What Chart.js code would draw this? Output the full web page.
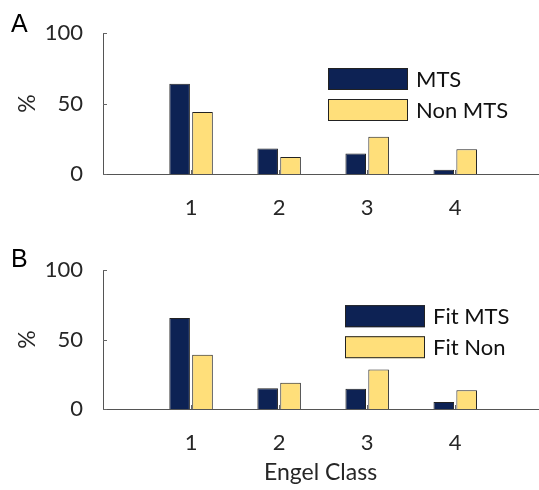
<!DOCTYPE html>
<html>
<head>
<meta charset="utf-8">
<script src="https://cdn.jsdelivr.net/npm/chart.js@4"></script>
<style>
  body { margin: 0; background: #fff; width: 539px; height: 490px; position: relative; overflow: hidden; }
  .panel { position: absolute; left: 0; width: 539px; height: 245px; }
  .letter { position: absolute; font-family: "Liberation Sans", Arial, sans-serif; font-size: 25px; color: #000; line-height: 1; }
</style>
</head>
<body>
<div class="panel" style="top:0"><canvas id="chartA"></canvas></div>
<div class="panel" style="top:245px"><canvas id="chartB"></canvas></div>
<div class="letter" style="left:11px; top:11px">A</div>
<div class="letter" style="left:11px; top:246px">B</div>
<script>
// datos
const clases = [1, 2, 3, 4];
const yTicks = [0, 50, 100];
const mtsA = [64, 18, 14.5, 3];
const nonMtsA = [44, 12, 26.5, 17.5];
const fitMtsB = [65.5, 15, 14.5, 5];
const fitNonB = [39, 19, 28.5, 13.5];

const AZUL = '#0d2254';
const AMARILLO = '#ffdf7a';
const FUENTE = 'Lato, "Open Sans", sans-serif';
const TEXTO = '#262626';

// ticks hacia adentro, estilo matlab
const ticksAdentro = {
  id: 'ticksAdentro',
  afterDatasetsDraw(chart) {
    const { ctx, scales: { x, y } } = chart;
    ctx.save();
    ctx.strokeStyle = '#666';
    ctx.lineWidth = 1;
    clases.forEach(v => {
      const px = Math.round(x.getPixelForValue(v)) + 0.5;
      ctx.beginPath(); ctx.moveTo(px, y.bottom); ctx.lineTo(px, y.bottom - 4); ctx.stroke();
    });
    yTicks.forEach(v => {
      const py = Math.round(y.getPixelForValue(v)) + 0.5;
      ctx.beginPath(); ctx.moveTo(x.left, py); ctx.lineTo(x.left + 4, py); ctx.stroke();
    });
    ctx.restore();
  }
};

// leyenda dentro del area del grafico
const leyenda = {
  id: 'leyenda',
  afterDraw(chart, args, opts) {
    const { ctx, chartArea } = chart;
    const x0 = chartArea.left + opts.dx;
    let y0 = chartArea.top + opts.dy;
    ctx.save();
    chart.data.datasets.forEach(ds => {
      ctx.fillStyle = ds.backgroundColor;
      ctx.fillRect(x0, y0, 80, 22);
      ctx.strokeStyle = '#222';
      ctx.lineWidth = 1;
      ctx.strokeRect(x0 + 0.5, y0 + 0.5, 79, 21);
      ctx.fillStyle = '#111';
      ctx.font = '22px ' + FUENTE;
      ctx.textBaseline = 'middle';
      ctx.fillText(ds.label, x0 + 88, y0 + 12);
      y0 += 31;
    });
    ctx.restore();
  }
};

function armarGrafico(id, nombres, serie1, serie2, conTitulo, arriba, leyX) {
  const abajo = conTitulo ? 81 : 71;
  new Chart(document.getElementById(id), {
    type: 'bar',
    data: {
      datasets: [
        { label: nombres[0], data: clases.map((c, i) => ({ x: c, y: serie1[i] })), backgroundColor: AZUL, borderColor: '#222', borderWidth: 1 },
        { label: nombres[1], data: clases.map((c, i) => ({ x: c, y: serie2[i] })), backgroundColor: AMARILLO, borderColor: '#222', borderWidth: 1 }
      ]
    },
    options: {
      responsive: true,
      maintainAspectRatio: false,
      animation: false,
      categoryPercentage: 0.52,
      barPercentage: 0.9,
      layout: { padding: { top: arriba, left: 0, right: 1, bottom: 0 } },
      plugins: { legend: { display: false }, tooltip: { enabled: false }, leyenda: { dx: leyX, dy: 35 } },
      scales: {
        x: {
          type: 'linear', min: 0, max: 4.94, offset: false,
          afterBuildTicks: s => { s.ticks = clases.map(v => ({ value: v })); },
          afterFit: s => { s.height = abajo; },
          grid: { display: false },
          border: { display: true, color: '#555', width: 1 },
          ticks: { color: TEXTO, font: { family: FUENTE, size: 22 }, padding: 13 },
          title: { display: conTitulo, text: 'Engel Class', color: TEXTO, font: { family: FUENTE, size: 23 }, padding: { top: 0, bottom: 4 } }
        },
        y: {
          min: 0, max: 100,
          afterBuildTicks: s => { s.ticks = yTicks.map(v => ({ value: v })); },
          afterFit: s => { s.width = 103; },
          grid: { display: false },
          border: { display: true, color: '#555', width: 1 },
          ticks: { color: TEXTO, font: { family: FUENTE, size: 22 }, padding: 12 },
          title: { display: true, text: '%', color: TEXTO, font: { family: FUENTE, size: 23 }, padding: { top: 14, bottom: 0 } }
        }
      }
    },
    plugins: [ticksAdentro, leyenda]
  });
}

armarGrafico('chartA', ['MTS', 'Non MTS'], mtsA, nonMtsA, false, 33, 225);
armarGrafico('chartB', ['Fit MTS', 'Fit Non'], fitMtsB, fitNonB, true, 23, 242);
</script>
</body>
</html>
